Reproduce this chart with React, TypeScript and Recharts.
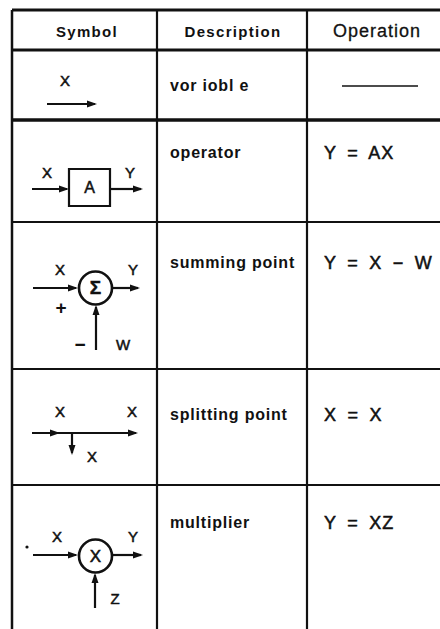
import { ComposedChart, XAxis, YAxis, Scatter, ReferenceLine, ReferenceArea } from 'recharts';

const W = 440;
const H = 629;
const FONT = '"Liberation Sans", Arial, sans-serif';
const INK = '#111';

// table contents
const headers = ['Symbol', 'Description', 'Operation'];
const descriptions = ['vor iobl e', 'operator', 'summing point', 'splitting point', 'multiplier'];
const operations = ['', 'Y = AX', 'Y = X − W', 'X = X', 'Y = XZ'];

// table layout (chart units == px)
const colRules = [12, 157, 307];
const rowRules = [10, 50, 120, 222, 369, 485];
const rowRuleWidth = [3, 3, 3.5, 2.2, 2.2, 2.2];
const headerX = [87, 233, 377];
const headerBase = 37;
const descX = 170;
const opX = 324;
const rowBase = [91, 158, 268, 420, 528];

// block-diagram pieces drawn in the symbol column
const shafts = [
  [47, 104, 95, 104],
  [32, 189, 67, 189], [110, 189, 141, 189],
  [33, 288, 76, 288], [113, 288, 138, 288], [96, 350, 96, 307],
  [32, 433, 136, 433], [72, 433, 72, 453],
  [33, 555, 76, 555], [113, 555, 141, 555], [95, 608, 95, 575],
];
const heads = [
  { x: 97, y: 104, dir: 'r' },
  { x: 69, y: 189, dir: 'r' }, { x: 143, y: 189, dir: 'r' },
  { x: 78, y: 288, dir: 'r' }, { x: 140, y: 288, dir: 'r' }, { x: 96, y: 305, dir: 'u' },
  { x: 60, y: 433, dir: 'r' }, { x: 138, y: 433, dir: 'r' }, { x: 72, y: 455, dir: 'd' },
  { x: 78, y: 555, dir: 'r' }, { x: 143, y: 555, dir: 'r' }, { x: 95, y: 573, dir: 'u' },
];
const junctions = [
  { x: 95.5, y: 288, t: 'Σ' },
  { x: 95.5, y: 556, t: 'X' },
];
const blocks = [{ x1: 69, x2: 110, y1: 169, y2: 206, t: 'A' }];
const letters = [
  { x: 65, y: 86, t: 'X' },
  { x: 47, y: 178, t: 'X' }, { x: 130, y: 178, t: 'Y' },
  { x: 60, y: 275, t: 'X' }, { x: 133, y: 275, t: 'Y' }, { x: 123, y: 350, t: 'W' },
  { x: 60, y: 417, t: 'X' }, { x: 132, y: 417, t: 'X' }, { x: 92, y: 462, t: 'X' },
  { x: 57, y: 542, t: 'X' }, { x: 133, y: 542, t: 'Y' }, { x: 115, y: 604, t: 'Z' },
];
const signs = [
  { x: 61, y: 314, t: '+' },
  { x: 80, y: 351, t: '−' },
];
const dots = [{ x: 27, y: 547 }];

const headerPts = headers.map((t, i) => ({ x: headerX[i], y: headerBase, t, i }));
const descPts = descriptions.map((t, i) => ({ x: descX, y: rowBase[i], t }));
const opPts = operations.map((t, i) => ({ x: opX, y: rowBase[i] + 1, t })).filter((d) => d.t);
const blockLabels = blocks.map((b) => ({ x: (b.x1 + b.x2) / 2, y: b.y2 - 13, t: b.t }));

// thin outline on the glyphs gives the heavier "medium" look of the print
const textShape = (anchor: string, size: number, weight: number, ls = 0, ws = 0, thick = 0) => (p: any) => (
  <text
    x={p.cx}
    y={p.cy}
    textAnchor={anchor}
    fontFamily={FONT}
    fontSize={size}
    fontWeight={weight}
    letterSpacing={ls}
    wordSpacing={ws}
    fill={INK}
    stroke={thick ? INK : 'none'}
    strokeWidth={thick}
  >
    {p.payload.t}
  </text>
);

const headerShape = (p: any) => {
  const regular = p.payload.i === 2;
  return (
    <text
      x={p.cx}
      y={p.cy}
      textAnchor="middle"
      fontFamily={FONT}
      fontSize={regular ? 18 : 15}
      fontWeight={regular ? 400 : 700}
      letterSpacing={regular ? 1 : 1.3}
      fill={INK}
      stroke={regular ? INK : 'none'}
      strokeWidth={regular ? 0.3 : 0}
    >
      {p.payload.t}
    </text>
  );
};

const headShape = (p: any) => {
  const { cx, cy } = p;
  const L = 10;
  const h = 3.5;
  let pts = '';
  if (p.payload.dir === 'r') pts = `${cx},${cy} ${cx - L},${cy - h} ${cx - L},${cy + h}`;
  else if (p.payload.dir === 'd') pts = `${cx},${cy} ${cx - h},${cy - L} ${cx + h},${cy - L}`;
  else pts = `${cx},${cy} ${cx - h},${cy + L} ${cx + h},${cy + L}`;
  return <polygon points={pts} fill={INK} />;
};

const junctionShape = (p: any) => (
  <g>
    <circle cx={p.cx} cy={p.cy} r={16.5} fill="#fff" stroke={INK} strokeWidth={2.6} />
    <text
      x={p.cx}
      y={p.cy + 6}
      textAnchor="middle"
      fontFamily={FONT}
      fontSize={p.payload.t === 'Σ' ? 19 : 17}
      fontWeight={p.payload.t === 'Σ' ? 700 : 400}
      fill={INK}
      stroke={INK}
      strokeWidth={0.5}
    >
      {p.payload.t}
    </text>
  </g>
);

const dotShape = (p: any) => <circle cx={p.cx} cy={p.cy} r={1.6} fill={INK} />;

export default function App() {
  return (
    <div style={{ position: 'absolute', left: 0, top: 0, width: W, height: H, background: '#fff' }}>
      <ComposedChart width={W} height={H} margin={{ top: 0, right: 0, bottom: 0, left: 0 }}>
        <XAxis type="number" dataKey="x" domain={[0, W]} hide allowDataOverflow />
        <YAxis type="number" dataKey="y" domain={[0, H]} reversed hide allowDataOverflow />

        {rowRules.map((y, i) => (
          <ReferenceLine
            key={`r${i}`}
            segment={[{ x: colRules[0], y }, { x: W, y }]}
            stroke={INK}
            strokeWidth={rowRuleWidth[i]}
          />
        ))}
        {colRules.map((x, i) => (
          <ReferenceLine
            key={`c${i}`}
            segment={[{ x, y: rowRules[0] }, { x, y: H }]}
            stroke={INK}
            strokeWidth={i === 0 ? 2.5 : 2.2}
          />
        ))}

        {/* dash in the operation cell of the "variable" row */}
        <ReferenceLine segment={[{ x: 342, y: 86 }, { x: 418, y: 86 }]} stroke={INK} strokeWidth={1.5} />

        {shafts.map((s, i) => (
          <ReferenceLine
            key={`s${i}`}
            segment={[{ x: s[0], y: s[1] }, { x: s[2], y: s[3] }]}
            stroke={INK}
            strokeWidth={2.2}
          />
        ))}
        {blocks.map((b, i) => (
          <ReferenceArea
            key={`b${i}`}
            x1={b.x1}
            x2={b.x2}
            y1={b.y1}
            y2={b.y2}
            fill="#fff"
            fillOpacity={1}
            stroke={INK}
            strokeWidth={2.2}
          />
        ))}

        <Scatter data={heads} shape={headShape} isAnimationActive={false} />
        <Scatter data={junctions} shape={junctionShape} isAnimationActive={false} />
        <Scatter data={dots} shape={dotShape} isAnimationActive={false} />
        <Scatter data={blockLabels} shape={textShape('middle', 16, 400, 0, 0, 0.5)} isAnimationActive={false} />
        <Scatter data={letters} shape={textShape('middle', 15, 400, 0, 0, 0.5)} isAnimationActive={false} />
        <Scatter data={signs} shape={textShape('middle', 19, 700)} isAnimationActive={false} />

        <Scatter data={headerPts} shape={headerShape} isAnimationActive={false} />
        <Scatter data={descPts} shape={textShape('start', 16, 700, 0.8)} isAnimationActive={false} />
        <Scatter data={opPts} shape={textShape('start', 18, 400, 1, 4.5, 0.5)} isAnimationActive={false} />
      </ComposedChart>
    </div>
  );
}
